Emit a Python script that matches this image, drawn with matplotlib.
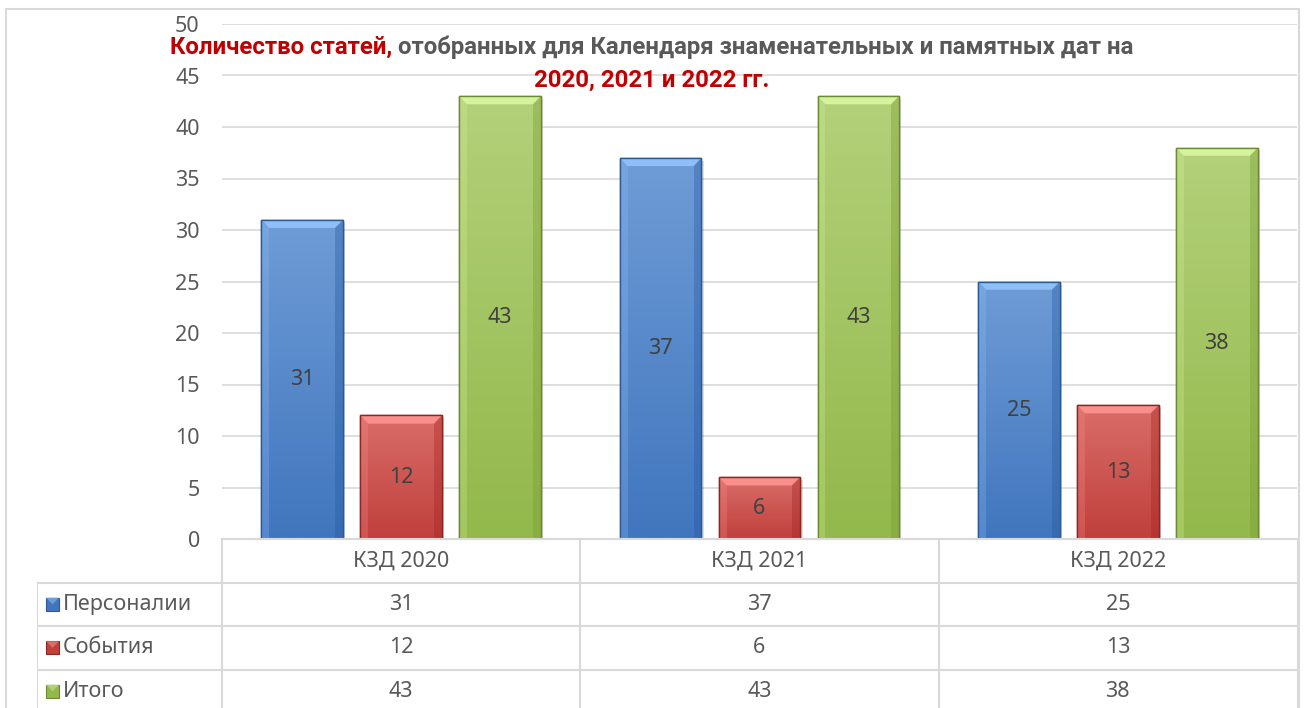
import matplotlib
matplotlib.use("Agg")
import matplotlib.pyplot as plt
import numpy as np
from matplotlib.patches import Rectangle, Polygon
from matplotlib import font_manager

# Chart data
categories = ["КЗД 2020", "КЗД 2021", "КЗД 2022"]
series_names = ["Персоналии", "События", "Итого"]
persons = [31, 37, 25]
events = [12, 6, 13]
totals = [43, 43, 38]
yticks = list(range(0, 55, 5))

series = [persons, events, totals]
# top colour, bottom colour, edge colour
palette = [("#6E9CD6", "#4176BE", "#2E5A92"),
           ("#D96D69", "#C0403C", "#8A2826"),
           ("#B3D17A", "#93B84B", "#6A8A33")]

plt.rcParams["font.family"] = ["Noto Sans", "DejaVu Sans"]

# pick a family that really has a bold face for the title
bold_fams = {f.name for f in font_manager.fontManager.ttflist
             if f.weight in (700, "bold")}
title_font = "DejaVu Sans"
for cand in ["Roboto", "Open Sans", "Lato", "Noto Sans", "Liberation Sans"]:
    if cand in bold_fams:
        title_font = cand
        break

W, H = 1304, 708
fig = plt.figure(figsize=(W / 100, H / 100), dpi=100)

def fx(px):
    return px / W

def fy(py):
    return 1 - py / H

# chart border
fig.add_artist(Rectangle((fx(6), fy(720)), fx(1299) - fx(6), fy(9) - fy(720),
                         transform=fig.transFigure, fill=False,
                         edgecolor="#D9D9D9", lw=1.5))

x0, x1, ytop, ybot = 222, 1297, 24, 539
ax = fig.add_axes([fx(x0), fy(ybot), fx(x1) - fx(x0), fy(ytop) - fy(ybot)])
ax.set_xlim(-0.5, 2.5)
ax.set_ylim(0, 50)
ax.set_yticks(yticks)
ax.set_xticks([])
for s in ax.spines.values():
    s.set_visible(False)
ax.tick_params(axis="y", length=0, pad=16, labelsize=15.5, labelcolor="#595959")
ax.grid(axis="y", color="#D9D9D9", lw=1.2)
ax.set_axisbelow(True)

x = np.arange(len(categories))
offsets = [-0.276, 0.0, 0.276]
bw = 0.228
grad = np.linspace(0, 1, 100).reshape(-1, 1)

for vals, off, (ctop, cbot, cedge) in zip(series, offsets, palette):
    bars = ax.bar(x + off, vals, bw, color=cbot, edgecolor=cedge, lw=1.0, zorder=3)
    top_rgb = np.array(matplotlib.colors.to_rgb(ctop))
    bot_rgb = np.array(matplotlib.colors.to_rgb(cbot))
    for b, v in zip(bars, vals):
        bx, by, bwid, bh = b.get_x(), b.get_y(), b.get_width(), b.get_height()
        # soft shadow
        ax.add_patch(Rectangle((bx + 0.006, by), bwid, bh - 0.3, color="#000000",
                               alpha=0.12, zorder=2, lw=0))
        img = (bot_rgb + (top_rgb - bot_rgb) * grad)[::-1].reshape(100, 1, 3)
        im = ax.imshow(img, extent=(bx, bx + bwid, by, by + bh), aspect="auto",
                       zorder=3.1, interpolation="bilinear")
        im.set_clip_path(b)
        # bevel
        dx, dy = 0.022, 0.8
        light = tuple(np.clip(top_rgb + 0.15, 0, 1))
        dark = tuple(np.clip(bot_rgb - 0.12, 0, 1))
        ax.add_patch(Polygon([(bx, by + bh), (bx + bwid, by + bh),
                              (bx + bwid - dx, by + bh - dy), (bx + dx, by + bh - dy)],
                             closed=True, color=light, lw=0, zorder=3.2, alpha=0.9))
        ax.add_patch(Polygon([(bx + bwid, by + bh), (bx + bwid, by),
                              (bx + bwid - dx, by), (bx + bwid - dx, by + bh - dy)],
                             closed=True, color=dark, lw=0, zorder=3.2, alpha=0.35))
        ax.add_patch(Polygon([(bx, by + bh), (bx, by),
                              (bx + dx, by), (bx + dx, by + bh - dy)],
                             closed=True, color=light, lw=0, zorder=3.2, alpha=0.25))
        ax.add_patch(Rectangle((bx, by), bwid, bh, fill=False, edgecolor=cedge,
                               lw=1.0, zorder=3.3))
        ax.text(bx + bwid / 2, v / 2, str(v), ha="center", va="center",
                fontsize=15.5, color="#404040", zorder=4)

# data table
tx0 = 37
tab = fig.add_axes([fx(tx0), 0, fx(1298) - fx(tx0), fy(ybot)])
unit = (x1 - x0) / 3
xl = -0.5 - (x0 - tx0) / unit
xr = -0.5 + (1298 - x0) / unit
row_h = 43.5
nrows = (H - ybot) / row_h
tab.set_xlim(xl, xr)
tab.set_ylim(nrows, 0)
tab.axis("off")
lc, lw = "#D9D9D9", 1.5
tab.plot([-0.5, xr], [0, 0], color=lc, lw=lw, clip_on=False)
for r in (1, 2, 3):
    tab.plot([xl, xr], [r, r], color=lc, lw=lw)
for c in (-0.5, 0.5, 1.5):
    tab.plot([c, c], [0, nrows], color=lc, lw=lw)
tab.plot([xr, xr], [0, nrows], color=lc, lw=lw)
tab.plot([xl, xl], [1, nrows], color=lc, lw=lw)

for i, cat in enumerate(categories):
    tab.text(i, 0.5, cat, ha="center", va="center", fontsize=15.5, color="#595959")
key_w = 13 / unit
for r, (name, vals, (ctop, cbot, cedge)) in enumerate(zip(series_names, series, palette), start=1):
    kx = xl + 9 / unit
    tab.add_patch(Rectangle((kx, r + 0.5 - 0.15), key_w, 0.3, facecolor=cbot,
                            edgecolor=cedge, lw=0.8))
    tab.add_patch(Polygon([(kx, r + 0.35), (kx + key_w, r + 0.35),
                           (kx + key_w / 2, r + 0.5)], closed=True,
                          color=ctop, lw=0))
    tab.text(kx + key_w + 4 / unit, r + 0.5, name, ha="left", va="center",
             fontsize=15.5, color="#595959")
    for i, v in enumerate(vals):
        tab.text(i, r + 0.5, str(v), ha="center", va="center", fontsize=15.5,
                 color="#595959")

# two-colour title, sized so the first line spans ~970 px
red, gray = "#C00000", "#595959"
tkw = dict(fontweight="bold", family=[title_font, "DejaVu Sans"], va="center",
           transform=fig.transFigure)
p1 = fig.text(0, fy(47), "Количество статей,", color=red, fontsize=14, **tkw)
p2 = fig.text(0, fy(47), " отобранных для Календаря знаменательных и памятных дат на",
              color=gray, fontsize=14, **tkw)
r = fig.canvas.get_renderer()
w = p1.get_window_extent(r).width + p2.get_window_extent(r).width
fs = 14 * 970 / w
p1.set_fontsize(fs)
p2.set_fontsize(fs)
w1 = p1.get_window_extent(r).width
w2 = p2.get_window_extent(r).width
start = 652 - (w1 + w2) / 2
p1.set_x(fx(start))
p2.set_x(fx(start + w1))
fig.text(fx(652), fy(80), "2020, 2021 и 2022 гг.", color=red, ha="center",
         fontsize=fs, **tkw)

fig.savefig("out.png", dpi=100)
